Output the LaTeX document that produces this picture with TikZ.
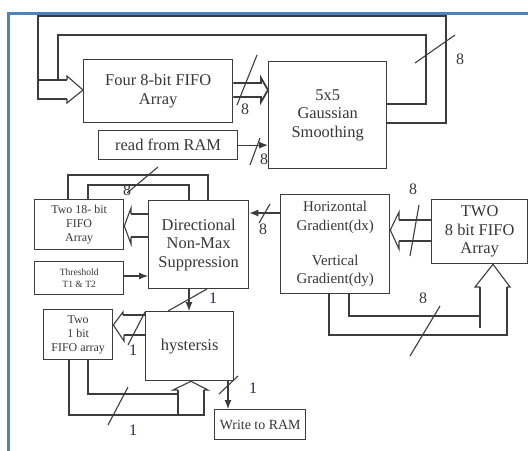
\documentclass[tikz,border=0pt]{standalone}
\usepackage{fontspec}
\setmainfont{Liberation Serif}
\usetikzlibrary{arrows.meta}
\definecolor{frameblue}{RGB}{79,129,189}
\definecolor{linec}{RGB}{60,60,60}
\definecolor{txt}{RGB}{55,55,55}
\definecolor{onec}{RGB}{40,35,95}
\begin{document}
\begin{tikzpicture}[x=1bp,y=-1bp,
 box/.style={draw=linec, line width=1.3bp, inner sep=0pt, anchor=north west, align=center, text=txt},
 wire/.style={draw=linec, line width=1.1bp, line join=miter},
 arr/.style={wire, -{Latex[length=9bp,width=7bp]}},
 slash/.style={draw=linec, line width=1.1bp},
 big/.style={font=\fontsize{16.5}{18.5}\selectfont},
 mid/.style={font=\fontsize{15}{18.5}\selectfont},
 small/.style={font=\fontsize{12}{14}\selectfont},
 tiny/.style={font=\fontsize{9.6}{12}\selectfont},
 lbleight/.style={font=\fontsize{16}{18}\selectfont, text=txt, inner sep=0pt},
 lblone/.style={font=\fontsize{16}{18}\selectfont, text=onec, inner sep=0pt}
]
\useasboundingbox (0,0) rectangle (528,451);
\fill[white] (0,0) rectangle (528,451);
% frame
\draw[frameblue, line width=2.6bp] (8.7,451) -- (8.7,13.5) -- (528,13.5);

% boxes
\node[box, big, minimum width=149bp, minimum height=63bp] (fifo4) at (83,59) {Four 8-bit FIFO\\Array};
\node[box, big, minimum width=118bp, minimum height=107bp] (gauss) at (268,61) {5x5\\Gaussian\\Smoothing};
\node[box, big, minimum width=139bp, minimum height=29bp] (readram) at (98,130) {read from RAM};
\node[box, small, minimum width=89bp, minimum height=50bp] (fifo18) at (34,199) {Two 18- bit\\FIFO\\Array};
\node[box, big, minimum width=100bp, minimum height=88bp] (nms) at (148,200) {Directional\\Non-Max\\Suppression};
\node[box, tiny, minimum width=89bp, minimum height=33bp] (thresh) at (34,261) {Threshold\\T1 \& T2};
\node[box, mid, minimum width=109bp, minimum height=99bp] (grad) at (280,194) {Horizontal\\Gradient(dx)\\[17pt]Vertical\\Gradient(dy)};
\node[box, big, minimum width=96bp, minimum height=64bp] (two8) at (431,199) {TWO\\8 bit FIFO\\Array};
\node[box, small, minimum width=69bp, minimum height=50bp] (fifo1) at (43,309) {Two\\1 bit\\FIFO array};
\node[box, big, minimum width=88bp, minimum height=69bp] (hyst) at (145,311) {hystersis};
\node[box, font=\fontsize{14}{16}\selectfont, minimum width=91bp, minimum height=30bp] (wram) at (214,409) {Write to RAM};

% feedback loops from Gaussian to FIFO input
\draw[wire] (gauss.east |- 0,123) -- (446,123) -- (446,16) -- (38,16) -- (38,99) -- (67,99);
\draw[wire] (38,80) -- (67,80);
\draw[wire] (67,99) -- (67,103) -- (fifo4.west |- 0,90) -- (67,76) -- (67,80);
\draw[wire] (gauss.east |- 0,104) -- (426,104) -- (426,35) -- (58,35) -- (58,80);
\draw[slash] (415,63) -- (455,35);
\node[lbleight] (l8a) at (460,59) {8};

% FIFO -> Gaussian (bus)
\draw[draw=linec, line width=1.8bp, line join=miter] (fifo4.east |- 0,83) -- (261,83) -- (261,78) -- (gauss.west |- 0,90) -- (261,102) -- (261,97) -- (fifo4.east |- 0,97);
\draw[slash] (257,55) -- (237,105);
\node[lbleight] (l8b) at (245,109) {8};

% read from RAM -> Gaussian
\draw[arr] (readram.east) -- (readram.east -| gauss.west);
\draw[slash] (260,138) -- (250,165);
\node[lbleight] (l8c) at (264,159) {8};

% loops between FIFO18 and NMS
\draw[wire] (68,199) -- (68,175) -- (208,175) -- (208,200);
\draw[wire] (88,199) -- (88,185) -- (189,185) -- (189,200);
\draw[slash] (158,167) -- (127,193);
\node[lbleight] (l8d) at (127,190) {8};

% NMS -> FIFO18 (bus)
\draw[wire] (nms.west |- 0,214) -- (131,214);
\draw[wire] (nms.west |- 0,237) -- (131,237);
\draw[wire] (131,214) -- (131,208) -- (fifo18.east |- 0,226) -- (131,244) -- (131,237);

% Threshold -> NMS
\draw[arr] (thresh.east |- 0,276) -- (nms.west |- 0,276);

% Gradient -> NMS
\draw[arr] (grad.west |- 0,213) -- (nms.east |- 0,213);
\draw[slash] (270,204) -- (259,223);
\node[lbleight] (l8e) at (263,229) {8};

% TWO FIFO -> Gradient (bus)
\draw[wire] (two8.west |- 0,220) -- (399,220);
\draw[wire] (two8.west |- 0,241) -- (399,241);
\draw[wire] (399,220) -- (399,212) -- (grad.east |- 0,230) -- (399,249) -- (399,241);
\draw[slash] (419,205) -- (410,256);
\node[lbleight] (l8f) at (413,189) {8};

% Gradient -> TWO FIFO (bus from below)
\draw[wire] (329,293) -- (329,335) -- (507,335) -- (507,287);
\draw[wire] (480,287) -- (480,328);
\draw[wire] (507,287) -- (510,287) -- (two8.south -| 493,0) -- (475,287) -- (480,287);
\draw[wire] (349,293) -- (349,316) -- (480,316);
\draw[slash] (440,306) -- (410,356);
\node[lbleight] (l8g) at (423,298) {8};

% NMS -> hysteresis
\draw[arr] (nms.south -| 189,0) -- (hyst.north -| 189,0);
\draw[slash] (207,289) -- (168,311);
\node[lblone] (l1a) at (213,298) {1};

% hysteresis -> two 1 bit FIFO (bus)
\draw[wire] (hyst.west |- 0,315) -- (123,315);
\draw[wire] (hyst.west |- 0,335) -- (124,335);
\draw[wire] (123,315) -- (123,312) -- (fifo1.east |- 0,325) -- (124,341) -- (124,335);
\draw[slash] (145,312) -- (128,345);
\node[lblone] (l1b) at (133,350) {1};

% two 1 bit FIFO -> hysteresis (bus from below)
\draw[wire] (69,359) -- (69,415) -- (204,415) -- (204,390);
\draw[wire] (178,390) -- (178,415);
\draw[wire] (204,390) -- (208,390) -- (hyst.south -| 191,0) -- (173,390) -- (178,390);
\draw[wire] (88,359) -- (88,394) -- (178,394);
\draw[slash] (128,387) -- (108,425);
\node[lblone] (l1c) at (133,430) {1};

% hysteresis -> Write to RAM
\draw[arr] (hyst.south -| 228,0) -- (wram.north -| 228,0);
\draw[slash] (238,376) -- (219,394);
\node[lblone] (l1d) at (253,388) {1};
\end{tikzpicture}
\end{document}
